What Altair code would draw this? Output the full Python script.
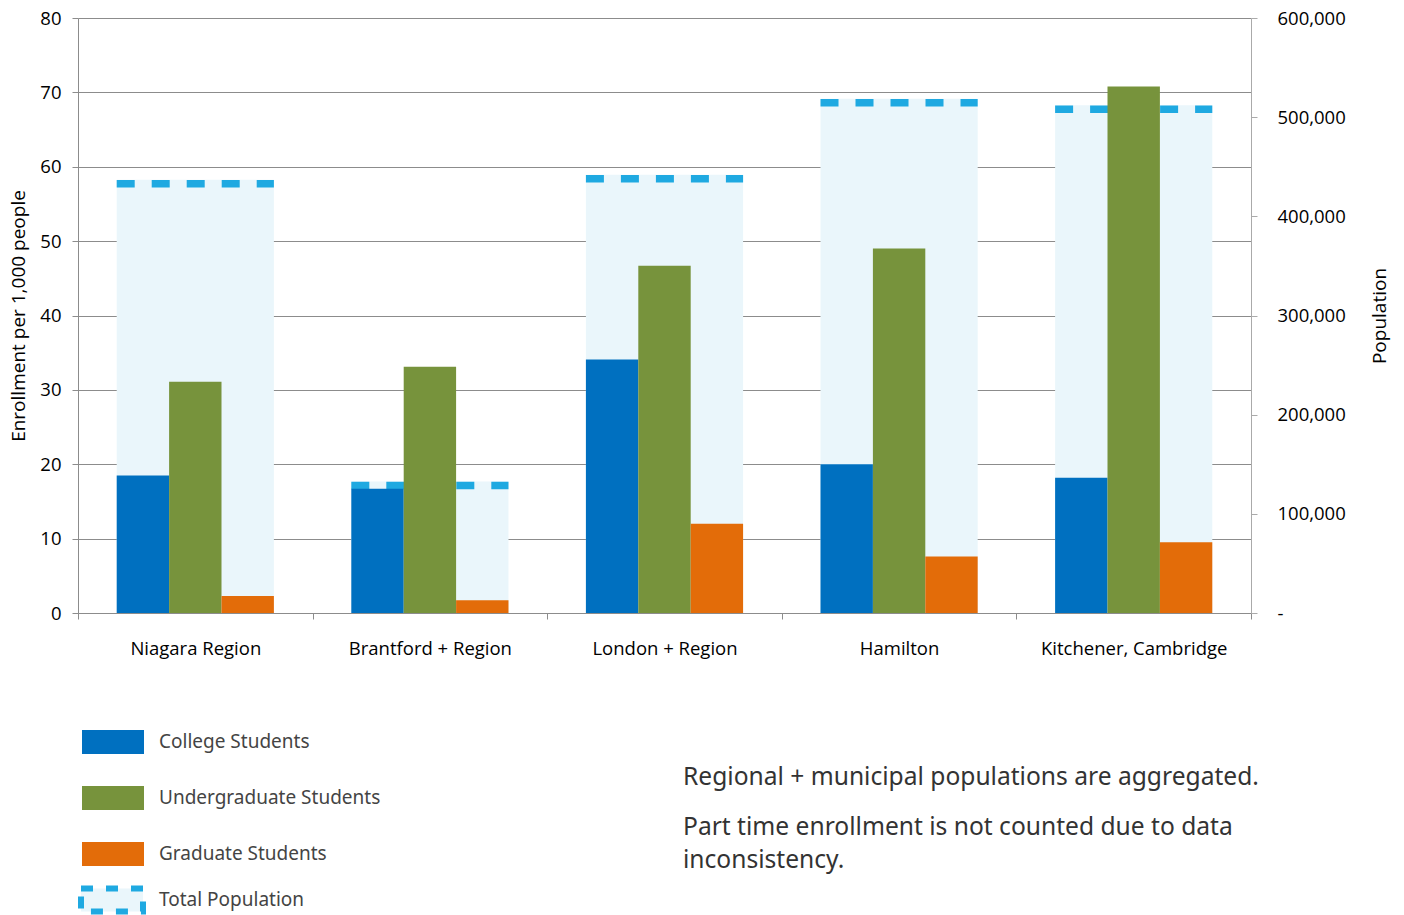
import altair as alt
import pandas as pd

regions = ["Niagara Region", "Brantford + Region", "London + Region", "Hamilton", "Kitchener, Cambridge"]
college = [18.5, 16.7, 34.1, 20.0, 18.2]
undergrad = [31.1, 33.1, 46.7, 49.0, 70.8]
graduate = [2.3, 1.7, 12.0, 7.6, 9.5]
population = [437000, 132500, 442000, 518500, 512000]
series = ["College Students", "Undergraduate Students", "Graduate Students"]
series_colors = ["#0070c0", "#77933c", "#e36c09"]
notes = ["Regional + municipal populations are aggregated.",
         "Part time enrollment is not counted due to data",
         "inconsistency."]

rows = []
for i, r in enumerate(regions):
    for s, v in zip(series, [college[i], undergrad[i], graduate[i]]):
        rows.append({"region": r, "series": s, "value": v})
bars_df = pd.DataFrame(rows)
pop_df = pd.DataFrame({"region": regions, "population": population, "label": "Total Population"})

FONT = "Open Sans"
NOTE_FONT = "Noto Sans"
GRID = "#8c8c8c"
GROUP = 0.67  # share of each category step covered by the bar group

xscale = alt.Scale(domain=regions, paddingInner=0, paddingOuter=0)
xaxis = alt.Axis(title=None, tickBand="extent", labelFont=FONT, labelFontSize=18.5, labelColor="#000",
                 labelPadding=20, tickSize=6, tickColor=GRID, domainColor=GRID, labelAngle=0,
                 labelLimit=0)

pop_y = alt.Y("population:Q", scale=alt.Scale(domain=[0, 600000]),
              axis=alt.Axis(orient="right", title="Population", values=list(range(0, 600001, 100000)),
                            labelExpr="datum.value == 0 ? '-' : format(datum.value, ',')",
                            labelFont=FONT, labelFontSize=18.5, labelColor="#000", labelPadding=20,
                            tickSize=6, tickColor="#aaa", domainColor="#aaa", grid=False,
                            titleFont=FONT, titleFontSize=19, titleFontWeight="normal",
                            titleColor="#000", titlePadding=44, titleAngle=270))

pop_fill = alt.Chart(pop_df).mark_bar(width=alt.RelativeBandSize(GROUP)).encode(
    x=alt.X("region:N", scale=xscale, axis=xaxis, sort=regions),
    y=pop_y,
    fill=alt.Fill("label:N", scale=alt.Scale(range=["#eaf6fb"]),
                  legend=alt.Legend(title=None, orient="none", legendX=0, legendY=848, padding=0,
                                    symbolType="M-1,-0.37H1V0.37H-1Z", symbolSize=3844,
                                    symbolStrokeColor="#1fa9e1", symbolStrokeWidth=6,
                                    symbolDash=[12, 13], labelLimit=0,
                                    labelFont=NOTE_FONT, labelFontSize=19, labelColor="#444",
                                    labelOffset=13)),
)

pop_dash = alt.Chart(pop_df).mark_rule(color="#1fa9e1", strokeWidth=7.5, strokeDash=[18, 17], yOffset=4).encode(
    x=alt.X("region:N", scale=xscale, sort=regions, bandPosition=(1 - GROUP) / 2),
    x2=alt.X2("region", bandPosition=1 - (1 - GROUP) / 2),
    y=alt.Y("population:Q"),
)

outer = (3 / GROUP - 3) / 2
bars = alt.Chart(bars_df).mark_bar().encode(
    x=alt.X("region:N", scale=xscale, sort=regions),
    xOffset=alt.XOffset("series:N", sort=series,
                        scale=alt.Scale(domain=series, paddingInner=0, paddingOuter=outer)),
    y=alt.Y("value:Q", scale=alt.Scale(domain=[0, 80]),
            axis=alt.Axis(orient="left", title="Enrollment per 1,000 people", values=list(range(0, 81, 10)),
                          labelFont=FONT, labelFontSize=18.5, labelColor="#000", labelPadding=11,
                          tickSize=6, tickColor=GRID, domainColor=GRID, grid=True, gridColor=GRID,
                          gridWidth=1.2, titleFont=FONT, titleFontSize=19, titleFontWeight="normal",
                          titleColor="#000", titlePadding=11)),
    color=alt.Color("series:N", sort=series, scale=alt.Scale(domain=series, range=series_colors),
                    legend=alt.Legend(title=None, orient="none", legendX=3, legendY=692, padding=0,
                                      symbolType="M-1,-0.387H1V0.387H-1Z", symbolSize=3844,
                                      labelFont=NOTE_FONT, labelFontSize=19, labelColor="#444",
                                      labelOffset=14, rowPadding=12, labelLimit=0)),
)

note_layers = []
for txt, yy in zip(notes, [778, 828, 861]):
    note_layers.append(
        alt.Chart(alt.Data(values=[{}])).mark_text(
            text=txt, align="left", baseline="middle", font=NOTE_FONT, fontSize=24.6, color="#333"
        ).encode(x=alt.value(683 - 78), y=alt.value(yy - 18))
    )

chart = alt.layer(
    alt.layer(pop_fill, pop_dash), bars, *note_layers
).resolve_scale(y="independent", x="shared").properties(
    width=1173, height=595,
    autosize=alt.AutoSizeParams(type="none"),
    padding={"left": 78, "top": 18, "right": 153, "bottom": 302},
).configure_view(stroke=None).configure_axis(labelFont=FONT)

chart.save("out.html", embed_options={"renderer": "svg", "actions": False})
